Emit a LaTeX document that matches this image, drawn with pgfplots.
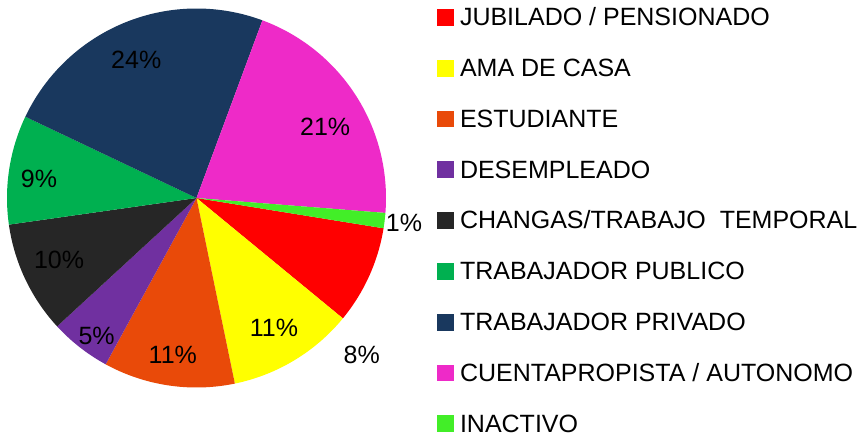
\documentclass[border=0pt]{standalone}
\usepackage{pgfplots}
\pgfplotsset{compat=1.18}
\usepackage{fontspec}
\setmainfont{Liberation Sans}
\definecolor{cJub}{RGB}{255,0,0}
\definecolor{cAma}{RGB}{255,255,0}
\definecolor{cEst}{RGB}{233,74,9}
\definecolor{cDes}{RGB}{112,48,160}
\definecolor{cCha}{RGB}{38,38,38}
\definecolor{cPub}{RGB}{0,176,80}
\definecolor{cPri}{RGB}{25,56,94}
\definecolor{cCue}{RGB}{238,42,200}
\definecolor{cIna}{RGB}{66,238,40}
% shares (%): Jubilado 8.4, Ama 10.8, Estudiante 11.2, Desempleado 5.2,
% Changas 9.6, Publico 9.3, Privado 23.6, Cuentapropista 20.6, Inactivo 1.3
% start angle -9.2 deg, clockwise, 3.6 deg per percent
\newcommand{\pct}{\fontsize{25}{30}\selectfont}
\begin{document}
\begin{tikzpicture}[x=1pt,y=1pt]
\path[use as bounding box] (0,0) rectangle (861,436);
\begin{axis}[at={(7pt,48.5pt)}, anchor=south west, scale only axis,
  width=379pt, height=379pt, xmin=-1, xmax=1, ymin=-1, ymax=1,
  hide axis, clip=false,
  legend style={at={(1.1354,1.0021)}, anchor=north west, draw=none, fill=none,
    inner sep=0pt, outer sep=0pt, row sep=32.8pt, column sep=6pt,
    font=\fontsize{25}{30}\selectfont,
    nodes={inner sep=0pt, outer sep=0pt, text height=18pt, text depth=0pt, anchor=base west}},
  legend cell align=left,
  legend image code/.code={\fill[#1] (0pt,0pt) rectangle (16.7pt,16.7pt);},
  every axis plot/.append style={draw=none, samples=100, variable=\t},
]
\addplot[fill=cJub, domain={-9.2-3.6*8.4}:{-9.2}] ({cos(\t)},{sin(\t)}) -- (axis cs:0,0) -- cycle;
\addlegendentry{JUBILADO / PENSIONADO}
\addplot[fill=cAma, domain={-39.44-3.6*10.8}:{-39.44}] ({cos(\t)},{sin(\t)}) -- (axis cs:0,0) -- cycle;
\addlegendentry{AMA DE CASA}
\addplot[fill=cEst, domain={-78.32-3.6*11.2}:{-78.32}] ({cos(\t)},{sin(\t)}) -- (axis cs:0,0) -- cycle;
\addlegendentry{ESTUDIANTE}
\addplot[fill=cDes, domain={-118.64-3.6*5.2}:{-118.64}] ({cos(\t)},{sin(\t)}) -- (axis cs:0,0) -- cycle;
\addlegendentry{DESEMPLEADO}
\addplot[fill=cCha, domain={-137.36-3.6*9.6}:{-137.36}] ({cos(\t)},{sin(\t)}) -- (axis cs:0,0) -- cycle;
\addlegendentry{CHANGAS/TRABAJO\ \ TEMPORAL}
\addplot[fill=cPub, domain={-171.92-3.6*9.3}:{-171.92}] ({cos(\t)},{sin(\t)}) -- (axis cs:0,0) -- cycle;
\addlegendentry{TRABAJADOR PUBLICO}
\addplot[fill=cPri, domain={-205.4-3.6*23.6}:{-205.4}] ({cos(\t)},{sin(\t)}) -- (axis cs:0,0) -- cycle;
\addlegendentry{TRABAJADOR PRIVADO}
\addplot[fill=cCue, domain={-290.36-3.6*20.6}:{-290.36}] ({cos(\t)},{sin(\t)}) -- (axis cs:0,0) -- cycle;
\addlegendentry{CUENTAPROPISTA / AUTONOMO}
\addplot[fill=cIna, domain={-364.52-3.6*1.3}:{-364.52}] ({cos(\t)},{sin(\t)}) -- (axis cs:0,0) -- cycle;
\addlegendentry{INACTIVO}
\node at (axis cs:-0.318,0.728) {\pct 24\%};
\node at (axis cs:0.679,0.375) {\pct 21\%};
\node at (axis cs:-0.831,0.100) {\pct 9\%};
\node at (axis cs:-0.725,-0.326) {\pct 10\%};
\node at (axis cs:-0.527,-0.728) {\pct 5\%};
\node at (axis cs:-0.125,-0.828) {\pct 11\%};
\node at (axis cs:0.409,-0.686) {\pct 11\%};
\node at (axis cs:0.872,-0.826) {\pct 8\%};
\node at (axis cs:1.095,-0.134) {\pct 1\%};
\end{axis}
\end{tikzpicture}
\end{document}
